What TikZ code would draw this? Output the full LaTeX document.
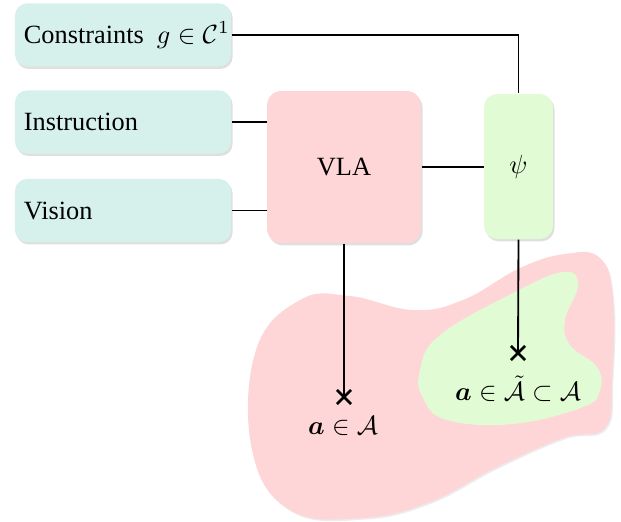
\documentclass[tikz,border=0pt]{standalone}
\usepackage{amsmath,amssymb,bm}
\usepackage{fontspec}
\setmainfont{Liberation Serif}
\usetikzlibrary{shadows,shapes.misc}
\definecolor{teal1}{RGB}{214,241,236}
\definecolor{pink1}{RGB}{255,214,215}
\definecolor{green1}{RGB}{225,251,212}
\newcommand{\lbox}[1]{\makebox[75.3pt][l]{#1}}
\begin{document}
\begin{tikzpicture}[x=0.38pt,y=-0.38pt,
  shad/.style={drop shadow={opacity=0.25,shadow xshift=0.6pt,shadow yshift=-0.9pt}},
  inbox/.style={shad,fill=teal1,rounded corners=4.6pt,minimum height=24pt,inner xsep=3.4pt},
  vlabox/.style={shad,fill=pink1,rounded corners=5.5pt,minimum width=58.5pt,minimum height=57.8pt},
  psibox/.style={shad,fill=green1,rounded corners=5pt,minimum width=26.2pt,minimum height=55.1pt},
  conn/.style={line width=0.7pt},
  xmark/.style={cross out,draw,line width=1pt,minimum size=4.4pt,inner sep=0pt}]
\useasboundingbox (0,0) rectangle (621,522);
% blobs
\fill[pink1,drop shadow={opacity=0.15,shadow xshift=0.5pt,shadow yshift=-0.6pt}] plot[smooth cycle,tension=0.7] coordinates {
 (300,300) (350,296) (413,310) (463,300) (520,268) (565,254) (600,258) (613,300)
 (612,380) (605,428) (563,438) (497,467) (430,502) (363,518) (290,510) (252,450) (256,350)};
\fill[green1] plot[smooth cycle,tension=0.7] coordinates {
 (420,370) (440,335) (513,293) (563,272) (578,285) (565,320) (570,345) (597,367)
 (600,390) (583,407) (513,424) (447,420) (423,398)};
% nodes
\node[inbox] (cons) at (123,35) {\lbox{Constraints\ \ $g\in\mathcal{C}^1$}};
\node[inbox] (instr) at (123,122) {\lbox{Instruction}};
\node[inbox] (vis) at (123,210.5) {\lbox{Vision}};
\node[vlabox] (vla) at (344,167) {VLA};
\node[psibox] (psi) at (518.5,166.5) {$\psi$};
\coordinate (x1) at (344,397);
\coordinate (x2) at (518,353);
% connectors
\draw[conn] (cons.east) -| (psi.north);
\draw[conn] (instr.east) -- (instr.east -| vla.west);
\draw[conn] (vis.east) -- (vis.east -| vla.west);
\draw[conn] (vla.east) -- (vla.east -| psi.west);
\draw[conn] (vla.south) -- (x1);
\draw[conn] (psi.south) -- (x2);
\node[xmark] (m1) at (x1) {};
\node[xmark] (m2) at (x2) {};
\node (l1) at (343,426) {$\bm{a}\in\mathcal{A}$};
\node (l2) at (518,389) {$\bm{a}\in\tilde{\mathcal{A}}\subset\mathcal{A}$};
\end{tikzpicture}
\end{document}
